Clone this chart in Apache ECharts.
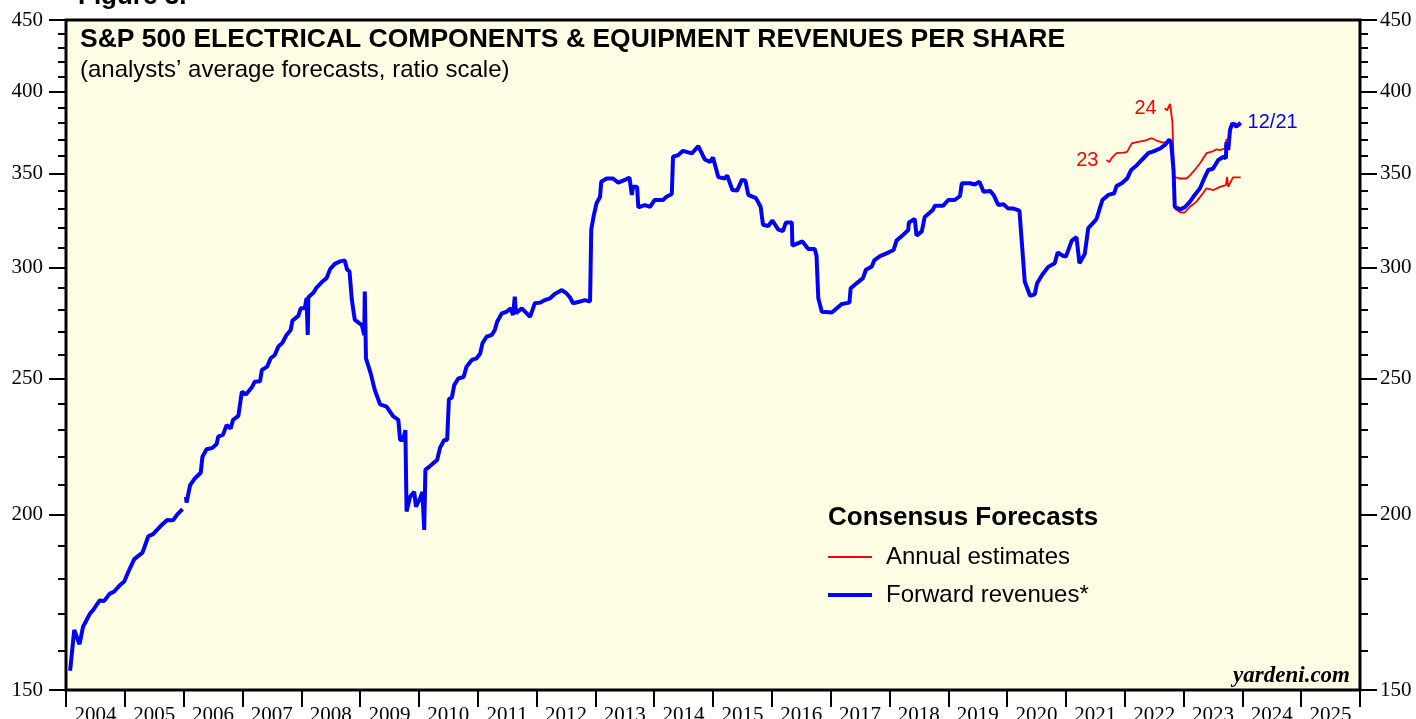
<!DOCTYPE html>
<html>
<head>
<meta charset="utf-8">
<title>S&P 500 Electrical Components & Equipment Revenues Per Share</title>
<script src="https://cdn.jsdelivr.net/npm/echarts@6.0.0/dist/echarts.min.js"></script>
<style>
  html, body { margin: 0; padding: 0; background: #fff; }
  #chart { width: 1416px; height: 719px; }
</style>
</head>
<body>
<div id="chart"></div>
<script>
// year bands on the bottom axis
const years = ['2004', '2005', '2006', '2007', '2008', '2009', '2010', '2011', '2012', '2013', '2014',
  '2015', '2016', '2017', '2018', '2019', '2020', '2021', '2022', '2023', '2024', '2025'];

// ratio scale ticks
const majorTicks = [150, 200, 250, 300, 350, 400, 450];
const minorTicks = [160, 170, 180, 190, 210, 220, 230, 240, 260, 270, 280, 290,
  310, 320, 330, 340, 360, 370, 380, 390, 410, 420, 430, 440];

// forward revenues (blue), null = gap in the data
const fwdDates = [
  2004.07, 2004.14, 2004.23, 2004.29, 2004.41, 2004.46, 2004.57, 2004.65, 2004.74, 2004.82, 2004.92, 2004.99,
  2005.06, 2005.16, 2005.30, 2005.40, 2005.48, 2005.60, 2005.72, 2005.82, 2005.89, 2005.98, 2006.01,
  2006.04, 2006.05, 2006.11, 2006.19, 2006.29, 2006.32, 2006.39, 2006.49, 2006.56, 2006.59, 2006.67, 2006.73,
  2006.80, 2006.84, 2006.93, 2006.99, 2007.06, 2007.16, 2007.21, 2007.30, 2007.33, 2007.42, 2007.48, 2007.55,
  2007.61, 2007.68, 2007.75, 2007.82, 2007.85, 2007.95, 2007.99, 2008.06, 2008.09, 2008.10, 2008.11, 2008.12,
  2008.21, 2008.26, 2008.35, 2008.43, 2008.49, 2008.57, 2008.66, 2008.74, 2008.78, 2008.82, 2008.86, 2008.91,
  2009.03, 2009.07, 2009.08, 2009.10, 2009.18, 2009.25, 2009.34, 2009.45, 2009.56, 2009.65, 2009.68, 2009.73,
  2009.77, 2009.79, 2009.85, 2009.92, 2009.95, 2010.02, 2010.06, 2010.09, 2010.11, 2010.19, 2010.24, 2010.31,
  2010.36, 2010.43, 2010.48, 2010.51, 2010.56, 2010.60, 2010.67, 2010.76, 2010.81, 2010.90, 2010.98, 2011.04,
  2011.08, 2011.15, 2011.24, 2011.29, 2011.33, 2011.41, 2011.49, 2011.56, 2011.60, 2011.63, 2011.65, 2011.75,
  2011.89, 2011.97, 2012.06, 2012.14, 2012.23, 2012.31, 2012.43, 2012.51, 2012.57, 2012.62, 2012.74, 2012.82,
  2012.91, 2012.93, 2012.97, 2013.02, 2013.08, 2013.10, 2013.19, 2013.30, 2013.39, 2013.50, 2013.58, 2013.62,
  2013.64, 2013.71, 2013.73, 2013.84, 2013.93, 2014.01, 2014.15, 2014.21, 2014.30, 2014.32, 2014.41, 2014.49,
  2014.64, 2014.75, 2014.86, 2014.95, 2015.00, 2015.09, 2015.20, 2015.24, 2015.33, 2015.41, 2015.49, 2015.55,
  2015.60, 2015.73, 2015.81, 2015.85, 2015.94, 2016.01, 2016.11, 2016.19, 2016.24, 2016.34, 2016.35, 2016.52,
  2016.62, 2016.73, 2016.76, 2016.79, 2016.85, 2017.02, 2017.19, 2017.32, 2017.34, 2017.44, 2017.55, 2017.60,
  2017.70, 2017.74, 2017.84, 2017.95, 2018.07, 2018.12, 2018.22, 2018.32, 2018.33, 2018.43, 2018.46, 2018.55,
  2018.60, 2018.74, 2018.77, 2018.91, 2019.00, 2019.11, 2019.20, 2019.23, 2019.37, 2019.45, 2019.53, 2019.60,
  2019.71, 2019.77, 2019.85, 2019.94, 2020.02, 2020.11, 2020.21, 2020.30, 2020.39, 2020.47, 2020.51, 2020.60,
  2020.70, 2020.81, 2020.86, 2020.95, 2021.00, 2021.10, 2021.18, 2021.23, 2021.32, 2021.38, 2021.47, 2021.52,
  2021.62, 2021.72, 2021.82, 2021.86, 2021.95, 2022.04, 2022.11, 2022.21, 2022.29, 2022.40, 2022.51, 2022.60,
  2022.68, 2022.76, 2022.79, 2022.83, 2022.85, 2022.94, 2023.02, 2023.11, 2023.19, 2023.28, 2023.35, 2023.42,
  2023.50, 2023.59, 2023.68, 2023.72, 2023.73, 2023.76, 2023.79, 2023.83, 2023.90, 2023.97
];
const fwdValues = [
  154.8, 165.5, 161.7, 166.4, 170.1, 171.0, 173.7, 173.6, 175.6, 176.3, 178.2, 179.2,
  182.1, 185.9, 187.9, 193.0, 193.7, 196.1, 198.2, 198.1, 200.0, 201.8, null,
  205.9, 204.0, 209.9, 212.2, 214.2, 219.9, 222.6, 223.1, 224.5, 227.3, 228.0, 231.6,
  230.3, 233.6, 235.1, 244.6, 243.5, 246.4, 248.7, 248.9, 253.5, 254.9, 258.4, 259.8,
  263.4, 265.1, 268.5, 270.7, 274.9, 277.0, 280.5, 280.5, 285.2, 285.0, 268.5, 285.6,
  287.8, 290.2, 292.8, 294.7, 299.1, 301.7, 302.9, 303.4, 298.8, 298.0, 284.3, 275.2,
  272.9, 268.5, 288.3, 258.4, 252.1, 245.3, 239.6, 238.7, 235.0, 233.6, 226.0, 226.0,
  229.7, 201.0, 205.9, 207.6, 202.6, 205.4, 207.6, 195.0, 215.2, 216.6, 217.5, 218.7,
  223.2, 226.0, 226.0, 241.6, 242.3, 247.3, 250.0, 250.6, 254.9, 257.7, 258.4, 260.3,
  264.8, 267.7, 268.5, 270.7, 274.4, 278.2, 278.9, 280.5, 277.4, 285.9, 278.2, 280.5,
  276.6, 282.8, 283.1, 284.3, 285.1, 287.1, 289.0, 287.4, 285.5, 282.8, 283.6, 284.3,
  283.6, 319.1, 326.1, 333.2, 336.8, 345.2, 347.0, 347.0, 344.7, 346.2, 347.6, 337.8,
  342.3, 342.3, 331.0, 332.2, 331.3, 335.0, 335.0, 336.8, 338.3, 359.6, 360.6, 363.1,
  361.6, 365.9, 358.0, 356.6, 359.2, 347.9, 347.0, 348.8, 340.5, 340.2, 346.2, 345.9,
  337.8, 336.0, 331.3, 321.7, 321.0, 323.9, 319.1, 318.4, 322.9, 322.9, 310.8, 313.0,
  309.1, 309.1, 305.7, 285.2, 278.9, 278.6, 282.5, 283.1, 289.8, 292.2, 294.7, 298.8,
  300.4, 303.4, 305.5, 306.9, 308.6, 313.4, 316.0, 318.9, 322.9, 324.7, 316.0, 318.2,
  325.8, 329.7, 331.8, 331.8, 335.0, 335.0, 337.2, 344.3, 344.3, 343.6, 345.2, 339.6,
  340.0, 337.8, 332.3, 332.7, 330.3, 330.3, 329.2, 293.1, 286.3, 287.0, 292.2, 296.5,
  300.2, 302.0, 307.4, 305.7, 305.3, 313.4, 315.2, 302.0, 306.6, 319.9, 322.9, 324.7,
  335.0, 337.8, 338.7, 342.7, 344.3, 347.0, 351.9, 354.8, 357.7, 361.7, 363.1, 364.5,
  366.5, 369.9, 367.5, 351.9, 331.3, 329.9, 331.0, 334.1, 337.8, 341.5, 347.0, 351.9,
  352.6, 357.7, 359.6, 358.6, 368.3, 363.6, 375.8, 379.9, 377.8, 380.3
];

// annual estimate for 2023 (red)
const est23Dates = [
  2021.69, 2021.74, 2021.77, 2021.86, 2021.98, 2022.04, 2022.12, 2022.20, 2022.34, 2022.46, 2022.54, 2022.65,
  2022.70, 2022.76, 2022.80, 2022.85, 2022.94, 2023.02, 2023.11, 2023.22, 2023.33, 2023.39, 2023.51, 2023.62,
  2023.72, 2023.74, 2023.76, 2023.84, 2023.97
];
const est23Values = [
  357.7, 356.5, 358.5, 361.7, 362.0, 362.5, 367.6, 368.4, 369.3, 370.7, 369.3, 368.0,
  368.4, 369.9, 366.0, 330.5, 328.3, 328.2, 331.3, 334.1, 338.7, 341.5, 340.5, 342.3,
  343.3, 347.9, 342.3, 347.6, 347.6
];

// annual estimate for 2024 (red)
const est24Dates = [
  2022.68, 2022.72, 2022.77, 2022.81, 2022.84, 2022.94, 2023.05, 2023.11, 2023.19, 2023.28, 2023.39, 2023.48,
  2023.56, 2023.62, 2023.70, 2023.73, 2023.76, 2023.80, 2023.87, 2023.97
];
const est24Values = [
  389.4, 388.0, 392.2, 380.9, 347.9, 347.0, 347.0, 348.8, 351.9, 355.8, 361.7, 362.6,
  364.0, 363.6, 364.5, 370.2, 368.3, 377.8, 380.0, 378.3
];

const pairs = (d, v) => d.map((x, i) => [x, v[i]]);

const SANS = 'Liberation Sans';
const SERIF = 'Liberation Serif';
const RED = '#ff0000';
const BLUE = '#0000ff';

const chart = echarts.init(document.getElementById('chart'));

const tickStyle = { color: '#000', width: 2 };
const yBase = {
  type: 'log',
  logBase: 10,
  min: 150,
  max: 450,
  splitLine: { show: false },
  axisLine: { show: false }
};
const majorLabel = (margin) => ({
  customValues: majorTicks,
  margin: margin,
  fontFamily: SERIF,
  fontSize: 21,
  color: '#000'
});

const estLabel = (txt) => ({
  show: true,
  position: 'left',
  distance: 8,
  formatter: txt,
  color: RED,
  fontFamily: SANS,
  fontSize: 20
});

let option = {
  animation: false,
  backgroundColor: '#fff',
  title: [
    {
      text: 'Figure 3.',
      left: 78, top: -18, padding: 0,
      textStyle: { fontFamily: SANS, fontSize: 26, fontWeight: 'bold', color: '#000', lineHeight: 30 }
    },
    {
      text: 'S&P 500 ELECTRICAL COMPONENTS & EQUIPMENT REVENUES PER SHARE',
      left: 80, top: 25, padding: 0,
      textStyle: { fontFamily: SANS, fontSize: 26.5, fontWeight: 'bold', color: '#000', lineHeight: 30 }
    },
    {
      text: '(analysts’ average forecasts, ratio scale)',
      left: 80, top: 57, padding: 0,
      textStyle: { fontFamily: SANS, fontSize: 24, fontWeight: 'normal', color: '#000', lineHeight: 26 }
    },
    {
      text: 'Consensus Forecasts',
      left: 828, top: 503, padding: 0,
      textStyle: { fontFamily: SANS, fontSize: 26, fontWeight: 'bold', color: '#000', lineHeight: 30 }
    },
    {
      text: 'yardeni.com',
      right: 66, top: 663, padding: 0,
      textStyle: { fontFamily: SERIF, fontSize: 23, fontWeight: 'bold', fontStyle: 'italic', color: '#000', lineHeight: 26 }
    }
  ],
  legend: [
    {
      data: ['Annual estimates'],
      left: 828, top: 545, padding: 0,
      icon: 'rect', itemWidth: 44, itemHeight: 2,
      selectedMode: false,
      textStyle: { fontFamily: SANS, fontSize: 24, color: '#000', padding: [0, 0, 0, 9] }
    },
    {
      data: ['Forward revenues*'],
      left: 828, top: 583, padding: 0,
      icon: 'rect', itemWidth: 44, itemHeight: 4,
      selectedMode: false,
      textStyle: { fontFamily: SANS, fontSize: 24, color: '#000', padding: [0, 0, 0, 9] }
    }
  ],
  grid: {
    left: 66, right: 56, top: 20, bottom: 29,
    containLabel: false,
    outerBoundsMode: 'none',
    show: true,
    backgroundColor: '#ffffe6',
    borderColor: '#000',
    borderWidth: 3
  },
  xAxis: [
    { type: 'value', min: 2004, max: 2026, show: false },
    {
      type: 'category',
      data: years,
      position: 'bottom',
      boundaryGap: true,
      axisLine: { show: false },
      axisTick: { show: true, interval: 0, length: 17, lineStyle: tickStyle },
      axisLabel: { interval: 0, margin: 15, fontFamily: SERIF, fontSize: 21, color: '#000' }
    }
  ],
  yAxis: [
    Object.assign({}, yBase, {
      position: 'left',
      axisTick: { show: true, length: 17, customValues: majorTicks, lineStyle: tickStyle },
      axisLabel: majorLabel(23)
    }),
    Object.assign({}, yBase, {
      position: 'left',
      axisTick: { show: true, length: 8, customValues: minorTicks, lineStyle: tickStyle },
      axisLabel: { show: false }
    }),
    Object.assign({}, yBase, {
      position: 'right',
      axisTick: { show: true, length: 17, customValues: majorTicks, lineStyle: tickStyle },
      axisLabel: majorLabel(20)
    }),
    Object.assign({}, yBase, {
      position: 'right',
      axisTick: { show: true, length: 8, customValues: minorTicks, lineStyle: tickStyle },
      axisLabel: { show: false }
    })
  ],
  series: [
    {
      name: 'Annual estimates',
      type: 'line',
      xAxisIndex: 0, yAxisIndex: 0,
      data: pairs(est23Dates, est23Values),
      symbol: 'none',
      lineStyle: { color: RED, width: 1.8 },
      itemStyle: { color: RED },
      markPoint: {
        symbol: 'circle', symbolSize: 0,
        data: [{ coord: [est23Dates[0], est23Values[0]], label: estLabel('23') }]
      }
    },
    {
      name: 'Annual estimates',
      type: 'line',
      xAxisIndex: 0, yAxisIndex: 0,
      data: pairs(est24Dates, est24Values),
      symbol: 'none',
      lineStyle: { color: RED, width: 1.8 },
      itemStyle: { color: RED },
      markPoint: {
        symbol: 'circle', symbolSize: 0,
        data: [{ coord: [est24Dates[0], est24Values[0]], label: estLabel('24') }]
      }
    },
    {
      name: 'Forward revenues*',
      type: 'line',
      xAxisIndex: 0, yAxisIndex: 0,
      data: pairs(fwdDates, fwdValues),
      symbol: 'none',
      connectNulls: false,
      lineStyle: { color: BLUE, width: 4 },
      itemStyle: { color: BLUE },
      endLabel: {
        show: true,
        formatter: '12/21',
        distance: 7,
        color: BLUE,
        fontFamily: SANS,
        fontSize: 20
      }
    }
  ]
};

chart.setOption(option);
</script>
</body>
</html>
